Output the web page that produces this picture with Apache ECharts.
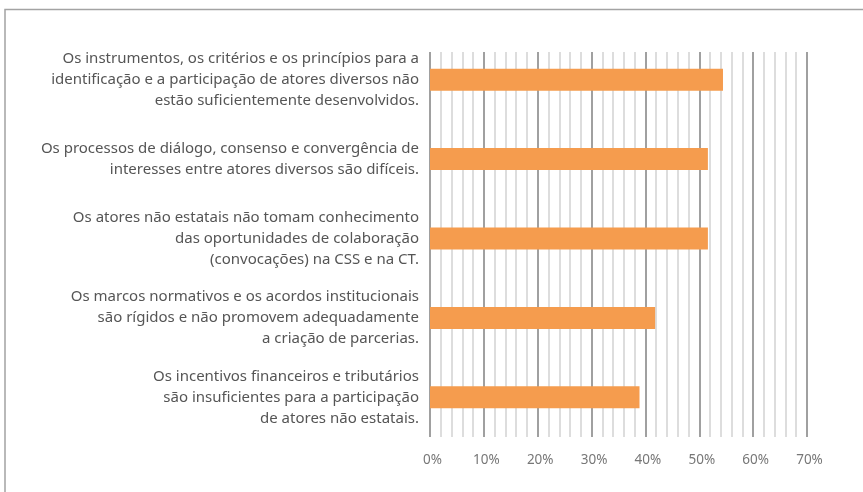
<!DOCTYPE html>
<html>
<head>
<meta charset="utf-8">
<script src="https://cdn.jsdelivr.net/npm/echarts@6/dist/echarts.min.js"></script>
<style>
  html, body { margin: 0; padding: 0; background: #fff; }
  #grafico { width: 863px; height: 492px; }
</style>
</head>
<body>
<div id="grafico"></div>
<script>
// Obstáculos à participação de atores não estatais (% de respostas)
const categorias = [
  "Os instrumentos, os critérios e os princípios para a\nidentificação e a participação de atores diversos não\nestão suficientemente desenvolvidos.",
  "Os processos de diálogo, consenso e convergência de\ninteresses entre atores diversos são difíceis.",
  "Os atores não estatais não tomam conhecimento\ndas oportunidades de colaboração\n(convocações) na CSS e na CT.",
  "Os marcos normativos e os acordos institucionais\nsão rígidos e não promovem adequadamente\na criação de parcerias.",
  "Os incentivos financeiros e tributários\nsão insuficientes para a participação\nde atores não estatais."
];
const valores = [54.4, 51.6, 51.6, 41.8, 38.9];
const eixoMin = 0, eixoMax = 70, eixoPasso = 10;

const FONTE = "'Noto Sans', sans-serif";
const g = echarts.init(document.getElementById("grafico"));

g.setOption({
  animation: false,
  textStyle: { fontFamily: FONTE },
  graphic: [{
    type: "polyline",
    shape: { points: [[5, 492], [5, 9.5], [863, 9.5]] },
    style: { stroke: "#a3a3a3", lineWidth: 1.5, fill: null },
    silent: true
  }],
  grid: [
    // grade das linhas verticais
    { left: 430, right: 56, top: 52, bottom: 55 },
    // barras
    { left: 430, right: 56, top: 40, bottom: 55 }
  ],
  xAxis: [
    {
      gridIndex: 0, type: "value", min: eixoMin, max: eixoMax, interval: eixoPasso,
      axisLine: { show: false }, axisTick: { show: false },
      axisLabel: { formatter: "{value}%", color: "#777", fontSize: 13.5, margin: 16, padding: [0, 0, 0, 5] },
      splitLine: { show: true, lineStyle: { color: "#808080", width: 1.5 } },
      minorTick: { show: false, splitNumber: 5 },
      minorSplitLine: { show: true, lineStyle: { color: "#d2d2d2", width: 1.5 } }
    },
    {
      gridIndex: 1, type: "value", min: eixoMin, max: eixoMax, interval: eixoPasso,
      show: false, splitLine: { show: false }
    }
  ],
  yAxis: [
    {
      gridIndex: 0, type: "category", data: categorias, show: false
    },
    {
      gridIndex: 1, type: "category", data: categorias, inverse: true,
      axisLine: { show: false }, axisTick: { show: false },
      axisLabel: { color: "#555", fontSize: 15, lineHeight: 21, margin: 11, align: "right" },
      splitLine: { show: false }
    }
  ],
  series: [{
    type: "bar",
    xAxisIndex: 1, yAxisIndex: 1,
    data: valores,
    barWidth: 22,
    itemStyle: { color: "#f59c4e" },
    silent: true
  }]
});
</script>
</body>
</html>
